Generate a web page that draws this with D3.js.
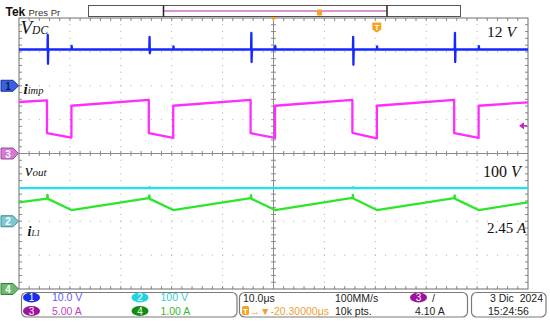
<!DOCTYPE html>
<html>
<head>
<meta charset="utf-8">
<script src="https://cdn.jsdelivr.net/npm/d3@7"></script>
<style>
  body { margin: 0; background: #fff; }
  svg { display: block; }
  text { font-family: "Liberation Sans", Arial, sans-serif; }
  .lbl { font-family: "Liberation Serif", "Times New Roman", serif; font-style: italic; fill: #111; }
</style>
</head>
<body>
<svg id="scope" width="550" height="323"></svg>
<script>
// traces: [time on screen (us), value in channel units]
const vdcTrace = [
  [0, 10.7], [5.6, 10.7], [5.65, 15.0], [5.7, 6.5], [5.75, 10.7],
  [10.3, 10.7], [10.35, 11.8], [10.4, 10.7],
  [25.6, 10.7], [25.65, 14.4], [25.7, 9.6], [25.75, 10.7],
  [30.3, 10.7], [30.35, 11.6], [30.4, 10.7],
  [45.6, 10.7], [45.65, 15.6], [45.7, 7.0], [45.75, 10.7],
  [50.3, 10.7], [50.35, 11.7], [50.4, 10.7],
  [65.6, 10.7], [65.65, 14.4], [65.7, 6.2], [65.75, 10.7],
  [70.3, 10.7], [70.35, 11.6], [70.4, 10.7],
  [85.6, 10.7], [85.65, 15.6], [85.7, 7.0], [85.75, 10.7],
  [90.3, 10.7], [90.35, 11.7], [90.4, 10.7],
  [100, 10.7]
];
const impTrace = [
  [0, 7.6], [5.5, 7.85], [5.5, 3.0], [10.3, 2.35], [10.3, 7.05],
  [25.5, 7.9], [25.5, 3.0], [30.3, 2.3], [30.3, 7.05],
  [45.5, 7.9], [45.5, 3.0], [50.3, 2.3], [50.3, 7.05],
  [65.5, 7.9], [65.5, 3.05], [70.3, 2.25], [70.3, 7.05],
  [85.5, 7.9], [85.5, 3.0], [90.3, 2.3], [90.3, 7.05],
  [100, 7.55]
];
const voutTrace = [
  [0, 98], [25.6, 98], [25.65, 101], [25.7, 98],
  [65.6, 98], [65.65, 100.5], [65.7, 98], [100, 98]
];
const il1Trace = [
  [0, 2.56], [5.5, 2.67], [5.6, 2.78], [5.7, 2.66], [10.3, 2.33],
  [25.5, 2.68], [25.6, 2.76], [25.7, 2.66], [30.3, 2.33],
  [45.5, 2.68], [45.6, 2.77], [45.7, 2.66], [50.3, 2.33],
  [65.5, 2.69], [65.6, 2.78], [65.7, 2.67], [70.3, 2.33],
  [85.5, 2.68], [85.6, 2.76], [85.7, 2.66], [90.3, 2.33],
  [100, 2.56]
];

// scope settings shown in the readout
const chIds = ['1', '2', '3', '4'];
const chScales = [10, 100, 5, 1];          // units per division
const chReadout = ['10.0 V', '100 V', '5.00 A', '1.00 A'];
const timePerDiv = 10;                     // us
const trigDelay = 20.3;                    // us
const trigLevel = 4.10;                    // A on channel 3

const svg = d3.select('#scope');
const L = 19, R = 528, T = 18, B = 289;
const nx = 10, ny = 8;
const dx = (R - L) / nx, dy = (B - T) / ny;

const x = d3.scaleLinear().domain([0, nx * timePerDiv]).range([L, R]);
const yDiv = d3.scaleLinear().domain([-ny / 2, ny / 2]).range([B, T]);

const chColor = ['#1428ff', '#1ce4ea', '#ff2cff', '#2ce62c'];
const chOffset = [2, -2, 0, -4];           // ground marker position, divisions
const yCh = chScales.map((s, i) =>
  d3.scaleLinear().domain([(-ny / 2 - chOffset[i]) * s, (ny / 2 - chOffset[i]) * s]).range([B, T]));

// ---- graticule
const grid = svg.append('g');
const dotC = '#a9a9a9', axC = '#8a8a8a';
for (let k = 1; k < nx; k++) {
  if (k === nx / 2) continue;
  grid.append('line').attr('x1', L + k * dx).attr('x2', L + k * dx).attr('y1', T).attr('y2', B)
    .attr('stroke', dotC).attr('stroke-dasharray', `1 ${dy / 5 - 1}`).attr('stroke-dashoffset', 0.5);
}
for (let j = 1; j < ny; j++) {
  if (j === ny / 2) continue;
  grid.append('line').attr('y1', T + j * dy).attr('y2', T + j * dy).attr('x1', L).attr('x2', R)
    .attr('stroke', dotC).attr('stroke-dasharray', `1 ${dx / 5 - 1}`).attr('stroke-dashoffset', 0.5);
}
const cx = L + nx / 2 * dx, cy = T + ny / 2 * dy;
grid.append('line').attr('x1', cx).attr('x2', cx).attr('y1', T).attr('y2', B).attr('stroke', axC);
grid.append('line').attr('x1', L).attr('x2', R).attr('y1', cy).attr('y2', cy).attr('stroke', axC);
for (let m = 1; m < nx * 5; m++) {
  const xx = L + m * dx / 5;
  grid.append('line').attr('x1', xx).attr('x2', xx).attr('y1', cy - 2.5).attr('y2', cy + 2.5).attr('stroke', axC);
  grid.append('line').attr('x1', xx).attr('x2', xx).attr('y1', T).attr('y2', T + 3).attr('stroke', axC);
  grid.append('line').attr('x1', xx).attr('x2', xx).attr('y1', B - 3).attr('y2', B).attr('stroke', axC);
}
for (let m = 1; m < ny * 5; m++) {
  const yy = T + m * dy / 5;
  grid.append('line').attr('y1', yy).attr('y2', yy).attr('x1', cx - 2.5).attr('x2', cx + 2.5).attr('stroke', axC);
  grid.append('line').attr('y1', yy).attr('y2', yy).attr('x1', L).attr('x2', L + 3).attr('stroke', axC);
  grid.append('line').attr('y1', yy).attr('y2', yy).attr('x1', R - 3).attr('x2', R).attr('stroke', axC);
}
grid.append('rect').attr('x', L).attr('y', T).attr('width', R - L).attr('height', B - T)
  .attr('fill', 'none').attr('stroke', '#6e6e6e');

// ---- traces (drawn back to front)
const traces = [
  { data: voutTrace, ch: 1 },
  { data: il1Trace, ch: 3 },
  { data: impTrace, ch: 2 },
  { data: vdcTrace, ch: 0 }
];
traces.forEach(t => {
  const line = d3.line().x(d => x(d[0])).y(d => yCh[t.ch](d[1]));
  svg.append('path').datum(t.data).attr('d', line)
    .attr('fill', 'none').attr('stroke', chColor[t.ch]).attr('stroke-width', 2.3)
    .attr('stroke-linejoin', 'round');
});

// ---- channel ground markers
const markFill = ['#3a62e0', '#7cc9d2', '#d77ad7', '#6cb86c'];
const markStroke = ['#1b2f9a', '#3f8d96', '#9b4a9b', '#3b7d3b'];
const markText = ['#0a1a60', '#ffffff', '#ffffff', '#ffffff'];
chIds.forEach((id, i) => {
  const y = yDiv(chOffset[i]);
  svg.append('path').attr('d', `M1,${y - 5.5} H13 L18.5,${y} L13,${y + 5.5} H1 Z`)
    .attr('fill', markFill[i]).attr('stroke', markStroke[i]);
  svg.append('text').attr('x', 8).attr('y', y + 4).attr('text-anchor', 'middle')
    .attr('font-size', 10).attr('font-weight', 'bold').attr('fill', markText[i]).text(id);
});

// trigger level arrow (right edge)
const ty = yCh[2](trigLevel);
svg.append('path').attr('d', `M519,${ty} L524,${ty - 3.5} L524,${ty + 3.5} Z`).attr('fill', '#d020c0');
svg.append('line').attr('x1', 522).attr('x2', 527).attr('y1', ty).attr('y2', ty).attr('stroke', '#d020c0').attr('stroke-width', 1.5);

// trigger position marker
const tx = x(nx / 2 * timePerDiv + trigDelay);
svg.append('path').attr('d', `M${tx - 4.5},22.5 h9 v7 l-4.5,3 l-4.5,-3 Z`).attr('fill', '#f7a21c');
svg.append('text').attr('x', tx).attr('y', 29.5).attr('text-anchor', 'middle')
  .attr('font-size', 8).attr('font-weight', 'bold').attr('fill', '#fff').text('T');

// ---- waveform labels
function label(xp, yp, parts) {
  const t = svg.append('text').attr('class', 'lbl').attr('x', xp).attr('y', yp);
  parts.forEach(p => {
    const s = t.append('tspan').attr('font-size', p[1]).text(p[0]);
    if (p[2]) s.attr('font-weight', 'bold');
    if (p[3]) s.attr('font-style', 'normal');
  });
}
label(20.5, 34, [['V', 19], ['DC', 11.5]]);
label(487, 37, [['12 ', 15.5, false, true], ['V', 15.5]]);
label(23.5, 93.5, [['i', 15, true], ['imp', 10.5]]);
label(25, 176, [['v', 17], ['out', 11]]);
label(483, 177, [['100 ', 16, false, true], ['V', 16]]);
label(27.5, 235.5, [['i', 14, true], ['L1', 8.5]]);
label(487, 233, [['2.45 ', 15, false, true], ['A', 15]]);

// ---- top bar
svg.append('text').attr('x', 5.5).attr('y', 16).attr('font-size', 12).attr('font-weight', 'bold')
  .attr('fill', '#111').text('Tek');
svg.append('text').attr('x', 28.5).attr('y', 15.5).attr('font-size', 9.5).attr('fill', '#333').text('Pres Pr');
svg.append('rect').attr('x', 88.5).attr('y', 5.5).attr('width', 372).attr('height', 11)
  .attr('fill', '#fff').attr('stroke', '#555');
svg.append('line').attr('x1', 164).attr('x2', 387).attr('y1', 11).attr('y2', 11)
  .attr('stroke', '#cc6fcc').attr('stroke-width', 1.5);
[163.5, 387].forEach(v => svg.append('line').attr('x1', v).attr('x2', v).attr('y1', 5.5).attr('y2', 16.5)
  .attr('stroke', '#222').attr('stroke-width', 1.5));
svg.append('rect').attr('x', 317).attr('y', 9.5).attr('width', 5).attr('height', 6).attr('rx', 1).attr('fill', '#f7a21c');
svg.append('path').attr('d', `M${cx - 3},17 L${cx + 3},17 L${cx},21 Z`).attr('fill', '#f7a21c');

// ---- readout panel
const panel = svg.append('g');
const boxes = [[21.5, 215.5], [239.5, 228], [471.5, 74.5]];
boxes.forEach(b => panel.append('rect').attr('x', b[0]).attr('y', 292.5).attr('width', b[1]).attr('height', 24.5)
  .attr('rx', 5).attr('fill', '#fff').attr('stroke', '#7a7a7a').attr('stroke-width', 1.2));

const badgeFill = ['#1a2fe6', '#22d4e0', '#9b129b', '#138c13'];
const readColor = ['#5a5aff', '#2ccfd8', '#c43ec4', '#35b835'];
const badgePos = [[31.5, 297.5], [140, 297.5], [31.5, 311], [140, 311]];  // ch1, ch2 / ch3, ch4
function badge(px, py, fill, id) {
  panel.append('ellipse').attr('cx', px).attr('cy', py).attr('rx', 8.5).attr('ry', 5).attr('fill', fill);
  panel.append('text').attr('x', px).attr('y', py + 3.6).attr('text-anchor', 'middle')
    .attr('font-size', 10).attr('fill', '#fff').text(id);
}
chIds.forEach((id, i) => {
  const p = badgePos[i];
  badge(p[0], p[1], badgeFill[i], id);
  panel.append('text').attr('x', p[0] + 20.5).attr('y', p[1] + 3.8).attr('font-size', 10.5)
    .attr('fill', readColor[i]).text(chReadout[i]);
});

panel.append('text').attr('x', 243).attr('y', 301.5).attr('font-size', 10.5).attr('fill', '#222')
  .text(d3.format('.1f')(timePerDiv) + 'μs');
panel.append('rect').attr('x', 242).attr('y', 306).attr('width', 7).attr('height', 9).attr('rx', 1.5).attr('fill', '#f7a21c');
panel.append('text').attr('x', 245.5).attr('y', 313.5).attr('text-anchor', 'middle').attr('font-size', 8)
  .attr('font-weight', 'bold').attr('fill', '#fff').text('T');
panel.append('text').attr('x', 249.5).attr('y', 314.5).attr('font-size', 10.5).attr('fill', '#f0a030')
  .text('→▼-' + d3.format('.5f')(trigDelay) + 'μs');
panel.append('text').attr('x', 335).attr('y', 301.5).attr('font-size', 10.5).attr('fill', '#222').text('100MM/s');
panel.append('text').attr('x', 335).attr('y', 314.5).attr('font-size', 10.5).attr('fill', '#222').text('10k pts.');
badge(418.5, 297.5, badgeFill[2], '3');
panel.append('text').attr('x', 432).attr('y', 301.5).attr('font-size', 10.5).attr('fill', '#222').text('/');
panel.append('text').attr('x', 415).attr('y', 314.5).attr('font-size', 10.5).attr('fill', '#222')
  .text(d3.format('.2f')(trigLevel) + ' A');
panel.append('text').attr('x', 543).attr('y', 301.5).attr('text-anchor', 'end').attr('font-size', 10.5)
  .attr('fill', '#222').attr('xml:space', 'preserve').text('3 Dic  2024');
panel.append('text').attr('x', 488).attr('y', 314.5).attr('font-size', 10.5).attr('fill', '#222').text('15:24:56');
</script>
</body>
</html>
